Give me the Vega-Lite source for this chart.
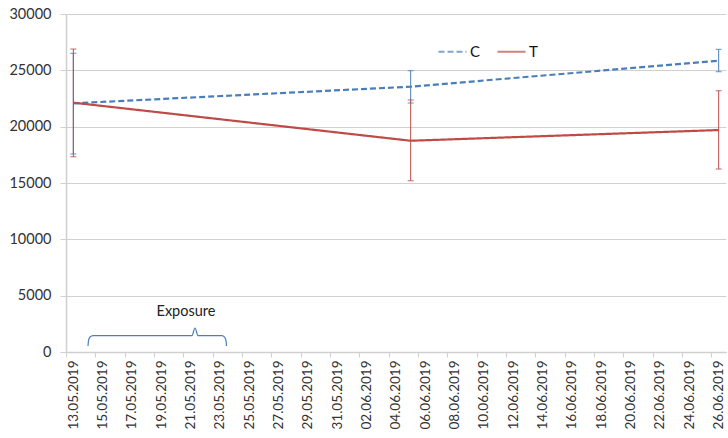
{
  "$schema": "https://vega.github.io/schema/vega-lite/v6.json",
  "width": 660,
  "height": 338,
  "autosize": {"type": "none"},
  "padding": {"left": 66, "top": 14, "right": 2, "bottom": 86},
  "background": "white",
  "config": {
    "view": {"stroke": null},
    "font": "Lato",
    "axis": {"labelFont": "Lato", "labelColor": "#333333", "titleFont": "Lato"},
    "legend": {"labelFont": "Lato"}
  },
  "datasets": {
    "main": [
      {"series": "C", "date": "2019-05-13", "value": 22070, "lo": 17580, "hi": 26510},
      {"series": "C", "date": "2019-06-05", "value": 23550, "lo": 22100, "hi": 24970},
      {"series": "C", "date": "2019-06-26", "value": 25850, "lo": 24880, "hi": 26860},
      {"series": "T", "date": "2019-05-13", "value": 22130, "lo": 17330, "hi": 26890},
      {"series": "T", "date": "2019-06-05", "value": 18750, "lo": 15200, "hi": 22370},
      {"series": "T", "date": "2019-06-26", "value": 19700, "lo": 16240, "hi": 23190}
    ],
    "brace": [
      {"order": 1, "date": "2019-05-14T00:00:00Z", "value": 530},
      {"order": 2, "date": "2019-05-14T00:49:00Z", "value": 1019},
      {"order": 3, "date": "2019-05-14T03:16:00Z", "value": 1329},
      {"order": 4, "date": "2019-05-14T08:11:00Z", "value": 1462},
      {"order": 5, "date": "2019-05-21T02:10:00Z", "value": 1462},
      {"order": 6, "date": "2019-05-21T07:05:00Z", "value": 2130},
      {"order": 7, "date": "2019-05-21T12:00:00Z", "value": 1462},
      {"order": 8, "date": "2019-05-23T03:16:00Z", "value": 1462},
      {"order": 9, "date": "2019-05-23T07:22:00Z", "value": 1329},
      {"order": 10, "date": "2019-05-23T09:49:00Z", "value": 1019},
      {"order": 11, "date": "2019-05-23T10:38:00Z", "value": 530}
    ],
    "label": [
      {"date": "2019-05-20T16:20:00Z", "value": 3590, "text": "Exposure"}
    ]
  },
  "encoding": {
    "x": {
      "field": "date",
      "type": "temporal",
      "title": null,
      "scale": {
        "type": "utc",
        "domain": [
          {"year": 2019, "month": 5, "date": 12, "hours": 12, "utc": true},
          {"year": 2019, "month": 6, "date": 26, "hours": 12, "utc": true}
        ]
      },
      "axis": {
        "values": [
          {"year": 2019, "month": 5, "date": 12, "hours": 12, "utc": true},
          {"year": 2019, "month": 5, "date": 14, "hours": 12, "utc": true},
          {"year": 2019, "month": 5, "date": 16, "hours": 12, "utc": true},
          {"year": 2019, "month": 5, "date": 18, "hours": 12, "utc": true},
          {"year": 2019, "month": 5, "date": 20, "hours": 12, "utc": true},
          {"year": 2019, "month": 5, "date": 22, "hours": 12, "utc": true},
          {"year": 2019, "month": 5, "date": 24, "hours": 12, "utc": true},
          {"year": 2019, "month": 5, "date": 26, "hours": 12, "utc": true},
          {"year": 2019, "month": 5, "date": 28, "hours": 12, "utc": true},
          {"year": 2019, "month": 5, "date": 30, "hours": 12, "utc": true},
          {"year": 2019, "month": 6, "date": 1, "hours": 12, "utc": true},
          {"year": 2019, "month": 6, "date": 3, "hours": 12, "utc": true},
          {"year": 2019, "month": 6, "date": 5, "hours": 12, "utc": true},
          {"year": 2019, "month": 6, "date": 7, "hours": 12, "utc": true},
          {"year": 2019, "month": 6, "date": 9, "hours": 12, "utc": true},
          {"year": 2019, "month": 6, "date": 11, "hours": 12, "utc": true},
          {"year": 2019, "month": 6, "date": 13, "hours": 12, "utc": true},
          {"year": 2019, "month": 6, "date": 15, "hours": 12, "utc": true},
          {"year": 2019, "month": 6, "date": 17, "hours": 12, "utc": true},
          {"year": 2019, "month": 6, "date": 19, "hours": 12, "utc": true},
          {"year": 2019, "month": 6, "date": 21, "hours": 12, "utc": true},
          {"year": 2019, "month": 6, "date": 23, "hours": 12, "utc": true},
          {"year": 2019, "month": 6, "date": 25, "hours": 12, "utc": true}
        ],
        "labelExpr": "utcFormat(datum.value + 43200000, '%d.%m.%Y')",
        "labelAngle": 270,
        "labelOffset": 7.33,
        "labelFontSize": 13.5,
        "labelPadding": 3,
        "labelFlush": false,
        "labelOverlap": false,
        "labelBound": false,
        "grid": false,
        "tickSize": 5,
        "tickColor": "#d0d0d0",
        "domainColor": "#d0d0d0",
        "domainWidth": 1.5
      }
    },
    "y": {
      "field": "value",
      "type": "quantitative",
      "title": null,
      "scale": {"domain": [0, 30000], "nice": false, "zero": true},
      "axis": {
        "values": [0, 5000, 10000, 15000, 20000, 25000, 30000],
        "format": "d",
        "labelFontSize": 14.5,
        "labelPadding": 9,
        "tickSize": 6,
        "tickColor": "#d0d0d0",
        "grid": true,
        "gridColor": "#d0d0d0",
        "domainColor": "#d0d0d0",
        "domainWidth": 1.5
      }
    }
  },
  "layer": [
    {
      "data": {"name": "main"},
      "mark": {"type": "rule", "strokeWidth": 1},
      "encoding": {
        "y": {"field": "lo", "type": "quantitative"},
        "y2": {"field": "hi"},
        "color": {"field": "series", "type": "nominal"}
      }
    },
    {
      "data": {"name": "main"},
      "mark": {"type": "tick", "orient": "horizontal", "size": 6, "thickness": 1.2},
      "encoding": {
        "y": {"field": "lo", "type": "quantitative"},
        "color": {"field": "series", "type": "nominal"}
      }
    },
    {
      "data": {"name": "main"},
      "mark": {"type": "tick", "orient": "horizontal", "size": 6, "thickness": 1.2},
      "encoding": {
        "y": {"field": "hi", "type": "quantitative"},
        "color": {"field": "series", "type": "nominal"}
      }
    },
    {
      "data": {"name": "main"},
      "mark": {"type": "line", "strokeWidth": 2.2},
      "encoding": {
        "color": {
          "field": "series",
          "type": "nominal",
          "title": null,
          "scale": {"domain": ["C", "T"], "range": ["#4a7ebb", "#be4b48"]},
          "legend": {
            "orient": "none",
            "legendX": 371,
            "legendY": 22,
            "direction": "horizontal",
            "symbolType": "stroke",
            "symbolSize": 784,
            "symbolStrokeWidth": 2.2,
            "labelFontSize": 15,
            "labelColor": "#111111",
            "labelOffset": 2,
            "columnPadding": 12,
            "title": null
          }
        },
        "strokeDash": {
          "field": "series",
          "type": "nominal",
          "title": null,
          "scale": {"domain": ["C", "T"], "range": [[6, 3], [1, 0]]}
        }
      }
    },
    {
      "data": {"name": "brace"},
      "mark": {"type": "line", "color": "#4a7ebb", "strokeWidth": 1.2, "interpolate": "monotone"},
      "encoding": {
        "order": {"field": "order", "type": "quantitative"}
      }
    },
    {
      "data": {"name": "label"},
      "mark": {"type": "text", "font": "Lato", "fontSize": 14.5, "color": "#222222", "align": "center", "baseline": "middle"},
      "encoding": {
        "text": {"field": "text"}
      }
    }
  ]
}
